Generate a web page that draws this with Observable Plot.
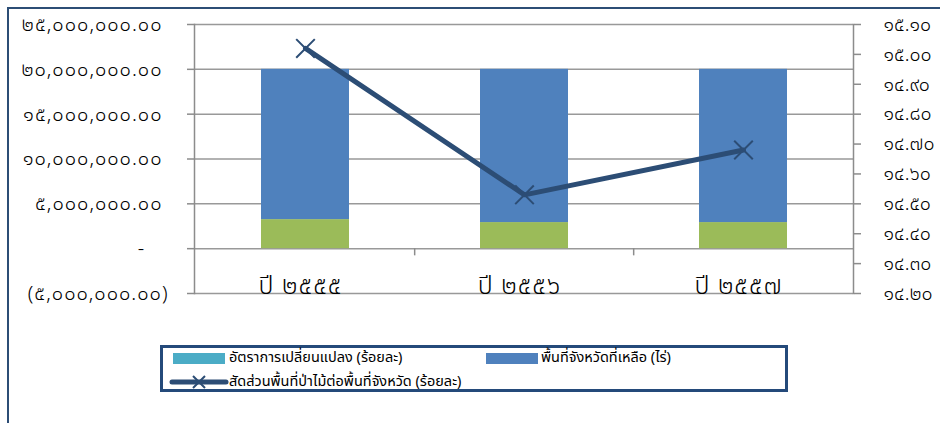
<!DOCTYPE html>
<html><head><meta charset="utf-8">
<script src="https://cdn.jsdelivr.net/npm/d3@7"></script>
<script src="https://cdn.jsdelivr.net/npm/@observablehq/plot@0.6"></script>
<style>
html,body{margin:0;padding:0;background:#fff;overflow:hidden;}
#wrap{position:relative;width:940px;height:423px;overflow:hidden;font-family:"Noto Sans Thai",Tahoma,"Noto Sans",sans-serif;}
#frame{position:absolute;left:7px;top:7px;width:1000px;height:1000px;border:2.5px solid #2C4D75;box-sizing:border-box;}
#main,#over{position:absolute;left:0;top:0;}
#legend{position:absolute;left:160px;top:345px;width:628px;height:47px;border:3px solid #244A7A;box-sizing:border-box;background:#fff;font-size:14.5px;color:#000;}
.sw{position:absolute;height:11px;width:52px;}
.lt{position:absolute;white-space:nowrap;line-height:16px;}
</style></head>
<body>
<div id="wrap">
  <div id="frame"></div>
  <div id="main"></div>
  <div id="over"></div>
  <div id="legend"></div>
</div>
<script>
// ---- data ----
const categories = ["ปี ๒๕๕๕", "ปี ๒๕๕๖", "ปี ๒๕๕๗"];
const forestArea = [3240000, 2910000, 2910000];          // green segment (ไร่)
const remainingArea = [16760000, 17090000, 17090000];    // blue segment (ไร่)
const forestRatio = [15.02, 14.53, 14.68];              // line (ร้อยละ)
const leftTicks = [-5000000, 0, 5000000, 10000000, 15000000, 20000000, 25000000];
const rightTicks = [14.2, 14.3, 14.4, 14.5, 14.6, 14.7, 14.8, 14.9, 15.0, 15.1];
const seriesNames = ["อัตราการเปลี่ยนแปลง (ร้อยละ)", "พื้นที่จังหวัดที่เหลือ (ไร่)", "สัดส่วนพื้นที่ป่าไม้ต่อพื้นที่จังหวัด (ร้อยละ)"];
const forestName = "พื้นที่ป่าไม้ (ไร่)";

const colors = {teal: "#4BACC6", blue: "#4F81BD", green: "#9BBB59", line: "#2C4D75", grid: "#999999", axis: "#8C8C8C"};

// ---- helpers ----
const thaiDigits = s => s.replace(/[0-9]/g, d => String.fromCharCode(0x0E50 + +d));
const fmt = d3.format(",.2f");
const leftFmt = v => v > 0 ? thaiDigits(fmt(v)) + "\u2005"
  : v < 0 ? "(" + thaiDigits(fmt(-v)) + ")"
  : "-\u2003\u200A";
const rightFmt = v => thaiDigits(v.toFixed(2));

const W = 940, H = 300;
const M = {top: 24, right: 87, bottom: 7, left: 194};
const step = (W - M.left - M.right) / categories.length;
const fontFamily = '"Noto Sans Thai", Tahoma, "Noto Sans", sans-serif';

const rows = [];
categories.forEach((c, i) => {
  rows.push({cat: c, series: forestName, value: forestArea[i]});
  rows.push({cat: c, series: seriesNames[1], value: remainingArea[i]});
});
const lineRows = categories.map((c, i) => ({cat: c, value: forestRatio[i]}));

const xOpts = {type: "band", domain: categories, paddingInner: 0.6, paddingOuter: 0.3};

const main = Plot.plot({
  width: W, height: H,
  marginTop: M.top, marginRight: M.right, marginBottom: M.bottom, marginLeft: M.left,
  style: {fontFamily, fontSize: "16px", fontWeight: 300, letterSpacing: "1px", color: "#000", background: "transparent", overflow: "visible"},
  x: {...xOpts, axis: null},
  y: {domain: [-5000000, 25000000], axis: null},
  color: {domain: [forestName, seriesNames[1]], range: [colors.green, colors.blue]},
  marks: [
    Plot.ruleY(leftTicks, {stroke: colors.grid, strokeWidth: 1.5}),
    Plot.barY(rows, {x: "cat", y: "value", fill: "series"}),
    Plot.ruleX(categories.slice(1), {x: d => d, y1: 0, y2: -800000, dx: -step / 2, stroke: colors.axis, strokeWidth: 1.5}),
    Plot.axisY({ticks: leftTicks, tickFormat: leftFmt, label: null, tickSize: 7, tickPadding: 19, stroke: colors.axis, strokeWidth: 1.5, fontSize: 20, fill: "#000"}),
    Plot.frame({anchor: "left", stroke: colors.axis, strokeWidth: 1.5}),
    Plot.text(categories, {x: d => d, frameAnchor: "bottom", lineAnchor: "bottom", dy: 0, dx: -5, fontSize: 25, letterSpacing: 3.3, fill: "#000"})
  ]
});
document.getElementById("main").appendChild(main);

const over = Plot.plot({
  width: W, height: H,
  marginTop: M.top, marginRight: M.right, marginBottom: M.bottom, marginLeft: M.left,
  style: {fontFamily, fontSize: "16px", fontWeight: 300, color: "#000", background: "transparent", overflow: "visible"},
  x: {...xOpts, axis: null},
  y: {domain: [14.2, 15.1], axis: null},
  marks: [
    Plot.axisY({anchor: "right", ticks: rightTicks, tickFormat: rightFmt, label: null, tickSize: 7, tickPadding: 23, stroke: colors.axis, strokeWidth: 1.5, fontSize: 19.5, fill: "#000"}),
    Plot.frame({anchor: "right", stroke: colors.axis, strokeWidth: 1.5}),
    Plot.line(lineRows, {x: "cat", y: "value", stroke: colors.line, strokeWidth: 5}),
    Plot.dot(lineRows, {x: "cat", y: "value", symbol: "times", r: 8.5, stroke: colors.line, strokeWidth: 2})
  ]
});
document.getElementById("over").appendChild(over);

// ---- legend ----
const lg = document.getElementById("legend");
lg.innerHTML = `
  <div class="sw" style="left:10px;top:5px;background:${colors.teal}"></div>
  <div class="lt" style="left:66px;top:2px">${seriesNames[0]}</div>
  <div class="sw" style="left:323px;top:5px;background:${colors.blue}"></div>
  <div class="lt" style="left:378px;top:2px">${seriesNames[1]}</div>
  <svg style="position:absolute;left:6px;top:27px" width="60" height="14">
    <line x1="3" y1="7" x2="57" y2="7" stroke="${colors.line}" stroke-width="5" stroke-linecap="round"/>
    <path d="M24,1L36,13M36,1L24,13" stroke="${colors.line}" stroke-width="2"/>
  </svg>
  <div class="lt" style="left:66px;top:26px">${seriesNames[2]}</div>`;
</script>
</body></html>
